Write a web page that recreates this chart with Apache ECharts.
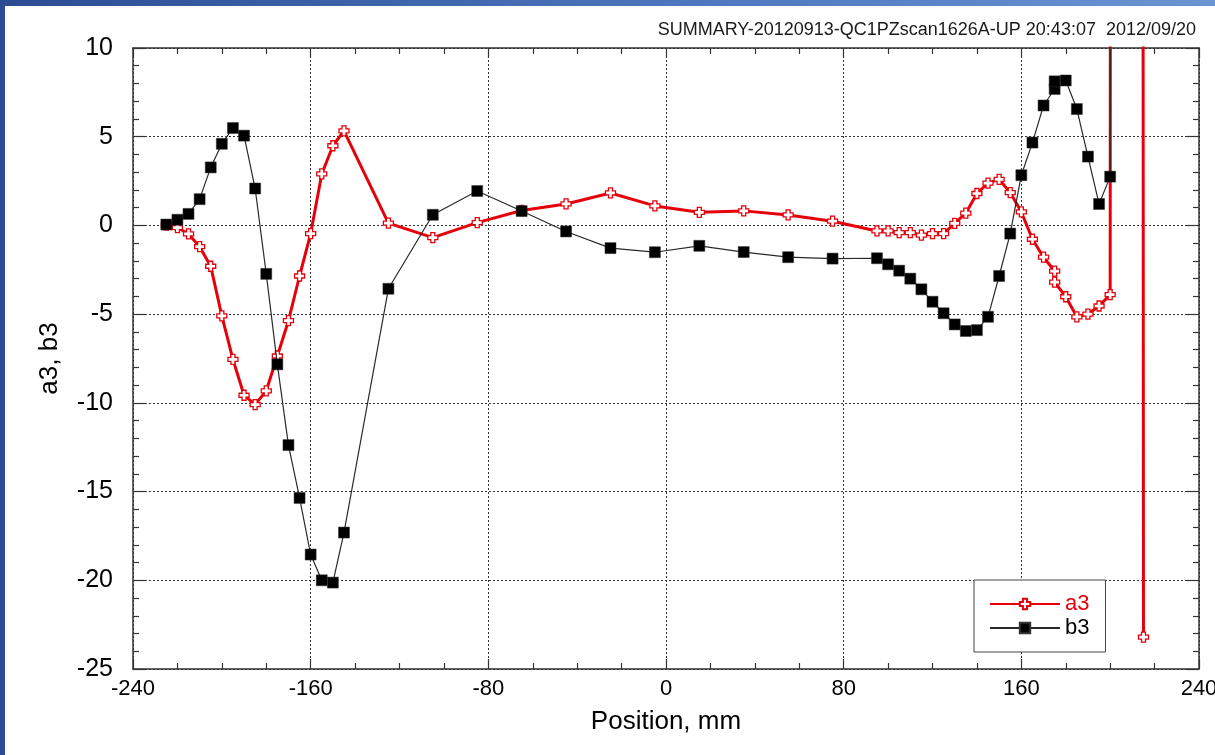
<!DOCTYPE html>
<html>
<head>
<meta charset="utf-8">
<script src="https://cdn.jsdelivr.net/npm/echarts@6/dist/echarts.min.js"></script>
<style>
  html, body { margin: 0; padding: 0; background: #ffffff; }
  #chart { width: 1215px; height: 755px; }
</style>
</head>
<body>
<div id="chart"></div>
<script>
// Scan summary: a3 / b3 harmonics versus probe position.
const chartTitle = 'SUMMARY-20120913-QC1PZscan1626A-UP 20:43:07  2012/09/20';
const xAxisName = 'Position, mm';
const yAxisName = 'a3, b3';

// readings that run past the top of the scale
const OFF_SCALE = 1000;

const positionMm = [
  -225, -220, -215, -210, -205, -200, -195, -190, -185, -180, -175, -170, -165, -160, -155, -150, -145,
  -125, -105, -85, -65, -45, -25, -5, 15, 35, 55, 75, 95,
  100, 105, 110, 115, 120, 125, 130, 135, 140, 145, 150, 155, 160, 165, 170, 175, 175, 180, 185, 190, 195, 200,
  205, 210, 215
];

const a3 = [
  0.02, -0.12, -0.48, -1.2, -2.3, -5.1, -7.55, -9.57, -10.1, -9.32, -7.36, -5.37, -2.85, -0.46, 2.9, 4.49, 5.33,
  0.13, -0.69, 0.16, 0.84, 1.21, 1.83, 1.1, 0.74, 0.82, 0.59, 0.24, -0.31,
  -0.31, -0.41, -0.41, -0.55, -0.46, -0.46, 0.12, 0.69, 1.8, 2.38, 2.6, 1.85, 0.76, -0.78, -1.79, -2.57, -3.2, -4.02, -5.15, -5.0, -4.54, -3.9,
  OFF_SCALE, OFF_SCALE, -23.2
];

const b3 = [
  0.05, 0.32, 0.65, 1.48, 3.27, 4.6, 5.49, 5.06, 2.08, -2.73, -7.83, -12.38, -15.36, -18.55, -20.0, -20.13, -17.31,
  -3.57, 0.6, 1.94, 0.81, -0.34, -1.28, -1.51, -1.15, -1.5, -1.79, -1.87, -1.85,
  -2.19, -2.55, -3.0, -3.6, -4.3, -4.95, -5.58, -5.95, -5.9, -5.15, -2.85, -0.46, 2.83, 4.67, 6.76, 7.69, 8.12, 8.17, 6.56, 3.88, 1.21, 2.75,
  OFF_SCALE, null, null
];

const xMin = -240, xMax = 240, xStep = 80;
const yMin = -25, yMax = 10, yStep = 5;

const pairs = (ys) => positionMm.map((x, i) => [x, ys[i]]);

const RED = '#e6000a';
const plusPath = 'path://M3,0H7V3H10V7H7V10H3V7H0V3H3Z';

const frameLine = { show: true, onZero: false, lineStyle: { color: '#333333', width: 1.5 } };
const gridDots = { show: true, lineStyle: { color: '#333333', width: 1, type: [2, 2] } };
const tickStyle = { color: '#333333', width: 1.2 };
const fontFamily = '"Liberation Sans", Arial, sans-serif';

const chart = echarts.init(document.getElementById('chart'), null, { renderer: 'canvas' });

chart.setOption({
  animation: false,
  backgroundColor: '#ffffff',
  textStyle: { fontFamily: fontFamily },
  title: {
    text: chartTitle,
    right: 14,
    top: 16,
    textStyle: { fontFamily: fontFamily, fontSize: 18, fontWeight: 'normal', color: '#1a1a1a' }
  },
  grid: { left: 133, right: 16, top: 48, bottom: 86, containLabel: false, outerBoundsMode: 'none' },
  legend: {
    left: 974,
    top: 580,
    orient: 'vertical',
    backgroundColor: '#ffffff',
    borderColor: '#444444',
    borderWidth: 1,
    borderRadius: 0,
    padding: [12, 16, 12, 15],
    itemWidth: 70,
    itemHeight: 13,
    itemGap: 0,
    itemTextGap: 7,
    data: [
      { name: 'a3', textStyle: { color: RED } },
      { name: 'b3', textStyle: { color: '#000000' } }
    ],
    textStyle: { fontFamily: fontFamily, fontSize: 22, lineHeight: 24, color: '#000000' }
  },
  xAxis: [
    {
      type: 'value', position: 'bottom', min: xMin, max: xMax, interval: xStep,
      name: xAxisName, nameLocation: 'middle', nameGap: 40,
      nameTextStyle: { fontFamily: fontFamily, fontSize: 26, color: '#000000' },
      axisLine: frameLine,
      axisTick: { show: true, inside: true, length: 10, lineStyle: tickStyle },
      minorTick: { show: true, splitNumber: 4, length: 6, lineStyle: tickStyle },
      axisLabel: { fontFamily: fontFamily, fontSize: 22, color: '#000000', margin: 9 },
      splitLine: gridDots
    },
    {
      type: 'value', position: 'top', min: xMin, max: xMax, interval: xStep,
      axisLine: frameLine,
      axisTick: { show: true, inside: true, length: 10, lineStyle: tickStyle },
      minorTick: { show: true, splitNumber: 4, length: 6, lineStyle: tickStyle },
      axisLabel: { show: false },
      splitLine: { show: false }
    }
  ],
  yAxis: [
    {
      type: 'value', position: 'left', min: yMin, max: yMax, interval: yStep,
      name: yAxisName, nameLocation: 'middle', nameGap: 70, nameRotate: 90,
      nameTextStyle: { fontFamily: fontFamily, fontSize: 26, color: '#000000' },
      axisLine: frameLine,
      axisTick: { show: true, inside: true, length: 12, lineStyle: tickStyle },
      minorTick: { show: true, splitNumber: 5, length: 6, lineStyle: tickStyle },
      axisLabel: { fontFamily: fontFamily, fontSize: 25, color: '#000000', margin: 20 },
      splitLine: gridDots
    },
    {
      type: 'value', position: 'right', min: yMin, max: yMax, interval: yStep,
      axisLine: frameLine,
      axisTick: { show: true, inside: true, length: 12, lineStyle: tickStyle },
      minorTick: { show: true, splitNumber: 5, length: 6, lineStyle: tickStyle },
      axisLabel: { show: false },
      splitLine: { show: false }
    }
  ],
  series: [
    {
      name: 'a3',
      type: 'line',
      xAxisIndex: 0,
      yAxisIndex: 0,
      data: pairs(a3),
      clip: true,
      connectNulls: false,
      symbol: plusPath,
      symbolSize: 10,
      showAllSymbol: true,
      lineStyle: { color: RED, width: 3 },
      itemStyle: { color: '#ffffff', borderColor: RED, borderWidth: 1.3 },
      emphasis: { disabled: true },
      z: 3
    },
    {
      name: 'b3',
      type: 'line',
      xAxisIndex: 0,
      yAxisIndex: 0,
      data: pairs(b3),
      clip: true,
      connectNulls: false,
      symbol: 'rect',
      symbolSize: 11,
      showAllSymbol: true,
      lineStyle: { color: '#2a2a2a', width: 1.2 },
      itemStyle: { color: '#000000', borderColor: '#333333', borderWidth: 0.5 },
      emphasis: { disabled: true },
      z: 4
    }
  ],
  graphic: [
    {
      type: 'rect',
      silent: true,
      z: 100,
      shape: { x: 0, y: 0, width: 1215, height: 6 },
      style: {
        fill: new echarts.graphic.LinearGradient(0, 0, 1, 0, [
          { offset: 0, color: '#2b4c94' },
          { offset: 0.6, color: '#4f79c0' },
          { offset: 1, color: '#6c94d4' }
        ])
      }
    },
    {
      type: 'rect',
      silent: true,
      z: 100,
      shape: { x: 0, y: 0, width: 5, height: 755 },
      style: { fill: '#2b4c94' }
    }
  ]
});
</script>
</body>
</html>
